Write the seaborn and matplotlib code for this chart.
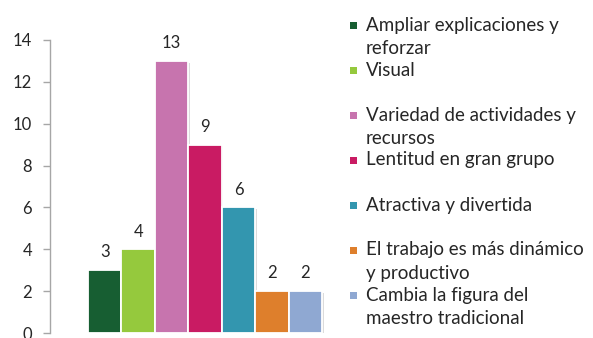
import matplotlib
matplotlib.use("Agg")
import matplotlib.pyplot as plt
import matplotlib.patheffects as pe
from matplotlib.patches import Rectangle
import pandas as pd
import seaborn as sns

# Respuestas por categoría
categorias = [
    "Ampliar explicaciones y\nreforzar",
    "Visual",
    "Variedad de actividades y\nrecursos",
    "Lentitud en gran grupo",
    "Atractiva y divertida",
    "El trabajo es más dinámico\ny productivo",
    "Cambia la figura del\nmaestro tradicional",
]
valores = [3, 4, 13, 9, 6, 2, 2]
colores = ["#175E32", "#95C93D", "#C774AE", "#C91B63", "#3396AF", "#DE7F2C", "#8FA8D2"]
y_ticks = [0, 2, 4, 6, 8, 10, 12, 14]

sns.set_theme(style="white")
plt.rcParams["font.family"] = ["Lato", "DejaVu Sans"]

df = pd.DataFrame({"grupo": [""] * len(valores), "categoria": categorias, "valor": valores})

W, H = 593, 338
fig = plt.figure(figsize=(W / 100, H / 100), dpi=100)
ax = fig.add_axes([50 / W, 5 / H, 295 / W, 293 / H])

sns.barplot(data=df, x="grupo", y="valor", hue="categoria", hue_order=categorias,
            palette=colores, saturation=1, width=0.8, dodge=True, legend=False,
            edgecolor="white", linewidth=1.3, ax=ax)

shadow = [pe.SimplePatchShadow(offset=(1.2, -1.2), shadow_rgbFace="#9a9a9a", alpha=0.35), pe.Normal()]
for patch in ax.patches:
    patch.set_path_effects(shadow)

for cont in ax.containers:
    ax.bar_label(cont, fmt="%d", padding=7, fontsize=12, color="#262626")

ax.set_xlim(-0.53, 0.478)
ax.set_ylim(0, 14)
ax.set_yticks(y_ticks)
ax.set_xticks([])
ax.set_xlabel("")
ax.set_ylabel("")
for s in ["top", "right", "bottom"]:
    ax.spines[s].set_visible(False)
ax.spines["left"].set_color("#A6A6A6")
ax.spines["left"].set_linewidth(1.0)
ax.tick_params(axis="y", which="major", left=True, direction="out", length=5,
               width=1.0, color="#A6A6A6", pad=8, labelsize=12, labelcolor="#262626")

# Leyenda a la derecha
y0, paso, interlinea = 25, 45, 24
for i, (cat, col) in enumerate(zip(categorias, colores)):
    yc = y0 + i * paso
    fig.patches.append(Rectangle(((350) / W, 1 - (yc + 3.5) / H), 7 / W, 7 / H,
                                 transform=fig.transFigure, facecolor=col,
                                 edgecolor="none"))
    for j, linea in enumerate(cat.split("\n")):
        fig.text(366 / W, 1 - (yc + j * interlinea) / H, linea, fontsize=13.5,
                 color="#262626", va="center", ha="left")

fig.savefig("out.png", dpi=100)
